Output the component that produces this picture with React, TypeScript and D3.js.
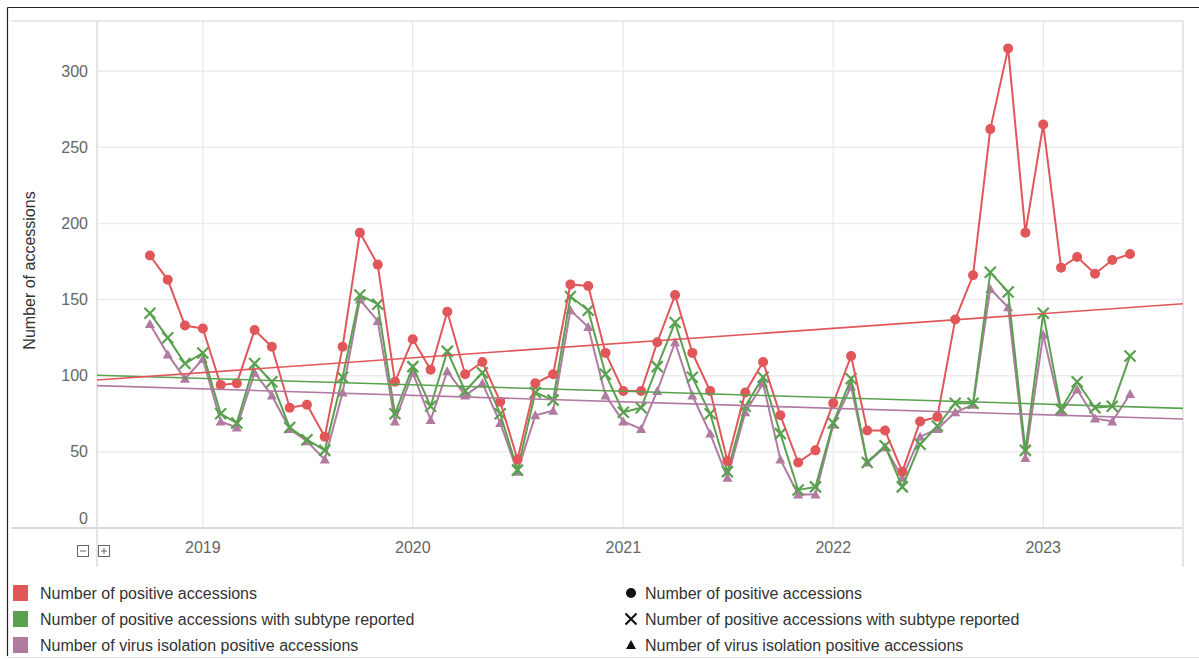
import React from 'react';
import * as d3 from 'd3';

// monthly values, Oct 2018 .. Jun 2023
const startMonth = new Date(2018, 9, 1);

const positive = [
  179, 163, 133,
  131, 94, 95, 130, 119, 79, 81, 60, 119, 194, 173, 96,
  124, 104, 142, 101, 109, 83, 45, 95, 101, 160, 159, 115,
  90, 90, 122, 153, 115, 90, 44, 89, 109, 74, 43, 51,
  82, 113, 64, 64, 37, 70, 73, 137, 166, 262, 315, 194,
  265, 171, 178, 167, 176, 180,
];

const subtyped = [
  141, 125, 108,
  115, 75, 69, 108, 96, 66, 58, 51, 99, 153, 147, 75,
  106, 80, 116, 90, 102, 75, 38, 89, 84, 152, 143, 101,
  76, 79, 106, 135, 99, 75, 37, 80, 99, 62, 25, 27,
  69, 98, 43, 54, 27, 55, 67, 82, 82, 168, 155, 51,
  141, 78, 96, 79, 80, 113,
];

const isolated = [
  134, 114, 98,
  111, 70, 66, 102, 87, 65, 57, 45, 89, 150, 136, 70,
  102, 71, 103, 87, 95, 69, 37, 74, 77, 143, 132, 87,
  70, 65, 90, 122, 87, 62, 33, 76, 95, 45, 22, 22,
  68, 93, 43, 53, 33, 60, 65, 76, 81, 157, 145, 46,
  127, 76, 91, 72, 70, 88,
];

const yTicks = [0, 50, 100, 150, 200, 250, 300];
const xYears = [2019, 2020, 2021, 2022, 2023];

const seriesNames = [
  'Number of positive accessions',
  'Number of positive accessions with subtype reported',
  'Number of virus isolation positive accessions',
];
const colors = ['#e15759', '#59a14f', '#b07aa1'];

const W = 1199;
const H = 659;
const plot = { left: 97, right: 1183, top: 21, bottom: 528 };

const x = d3
  .scaleTime()
  .domain([new Date(2018, 6, 1), new Date(2023, 8, 1)])
  .range([plot.left, plot.right]);

const y = d3.scaleLinear().domain([0, 333]).range([plot.bottom, plot.top]);

type Pt = { date: Date; value: number };

const toPoints = (vals: number[]): Pt[] =>
  vals.map((v, i) => ({
    date: new Date(startMonth.getFullYear(), startMonth.getMonth() + i, 1),
    value: v,
  }));

const allSeries = [positive, subtyped, isolated].map(toPoints);

// least squares trend, drawn across the whole axis
function trend(pts: Pt[]): Pt[] {
  const xs = pts.map((p) => +p.date);
  const ys = pts.map((p) => p.value);
  const mx = d3.mean(xs) as number;
  const my = d3.mean(ys) as number;
  let num = 0;
  let den = 0;
  xs.forEach((xv, i) => {
    num += (xv - mx) * (ys[i] - my);
    den += (xv - mx) * (xv - mx);
  });
  const b = num / den;
  const a = my - b * mx;
  return x.domain().map((d) => ({ date: d, value: a + b * +d }));
}

const line = d3
  .line<Pt>()
  .x((d) => x(d.date))
  .y((d) => y(d.value));

const font = '"Liberation Sans", Arial, sans-serif';

function Marker({ kind, cx, cy, color }: { kind: number; cx: number; cy: number; color: string }) {
  if (kind === 0) return <circle cx={cx} cy={cy} r={5} fill={color} />;
  if (kind === 1) {
    const s = 5.5;
    return (
      <path
        d={`M${cx - s},${cy - s}L${cx + s},${cy + s}M${cx - s},${cy + s}L${cx + s},${cy - s}`}
        stroke={color}
        strokeWidth={2.2}
        fill="none"
      />
    );
  }
  return (
    <path
      d={`M${cx},${cy - 5}L${cx + 5},${cy + 4}L${cx - 5},${cy + 4}Z`}
      fill={color}
    />
  );
}

const App: React.FC = () => {
  const order = [2, 1, 0];
  return (
    <svg
      width={W}
      height={H}
      style={{ position: 'absolute', left: 0, top: 0, background: '#fff' }}
      fontFamily={font}
    >
      {/* outer frame */}
      <line x1={7.5} y1={7.5} x2={W} y2={7.5} stroke="#222" strokeWidth={1.2} />
      <line x1={7.5} y1={7.5} x2={7.5} y2={656} stroke="#222" strokeWidth={1.2} />
      <line x1={7.5} y1={657.5} x2={W} y2={657.5} stroke="#e4e4e4" />

      {/* grid */}
      {yTicks.slice(1).map((t) => (
        <line key={t} x1={plot.left} x2={plot.right} y1={y(t)} y2={y(t)} stroke="#ececec" strokeWidth={1.5} />
      ))}
      {xYears.map((yr) => {
        const px = x(new Date(yr, 0, 1));
        return <line key={yr} x1={px} x2={px} y1={plot.top} y2={plot.bottom} stroke="#ececec" strokeWidth={1.5} />;
      })}
      <line x1={11} x2={plot.right} y1={plot.top} y2={plot.top} stroke="#e2e2e2" strokeWidth={1.5} />
      <line x1={11} x2={plot.right} y1={plot.bottom} y2={plot.bottom} stroke="#cfcfcf" strokeWidth={1.5} />
      <line x1={plot.left} x2={plot.left} y1={plot.top} y2={567} stroke="#dcdcdc" strokeWidth={1.5} />
      <line x1={plot.right} x2={plot.right} y1={plot.top} y2={567} stroke="#dcdcdc" strokeWidth={1.5} />

      {/* y axis */}
      {yTicks.map((t) => (
        <text key={t} x={88} y={y(t) + (t === 0 ? -4.5 : 5.5)} textAnchor="end" fontSize={16} fill="#666">
          {t}
        </text>
      ))}
      <text
        transform={`translate(35,${(plot.top + plot.bottom) / 2 - 4}) rotate(-90)`}
        textAnchor="middle"
        fontSize={16}
        fill="#333"
      >
        Number of accessions
      </text>

      {/* x axis */}
      {xYears.map((yr) => (
        <text key={yr} x={x(new Date(yr, 0, 1))} y={553} textAnchor="middle" fontSize={16} fill="#666">
          {yr}
        </text>
      ))}

      {/* zoom buttons */}
      <g stroke="#666" strokeWidth={1} fill="#fff">
        <rect x={77.5} y={545.5} width={11} height={11} />
        <line x1={80} x2={86} y1={551} y2={551} />
        <rect x={98.5} y={545.5} width={11} height={11} />
        <line x1={101} x2={107} y1={551} y2={551} />
        <line x1={104} x2={104} y1={548} y2={554} />
      </g>

      {/* series */}
      {order.map((si) => (
        <g key={si}>
          <path d={line(allSeries[si]) || ''} fill="none" stroke={colors[si]} strokeWidth={2} />
          {allSeries[si].map((p, i) => (
            <Marker key={i} kind={si} cx={x(p.date)} cy={y(p.value)} color={colors[si]} />
          ))}
        </g>
      ))}

      {/* trend lines */}
      {order.map((si) => (
        <path key={'t' + si} d={line(trend(allSeries[si])) || ''} fill="none" stroke={colors[si]} strokeWidth={1.6} />
      ))}

      {/* legend */}
      {seriesNames.map((name, i) => {
        const cy = 593 + i * 26;
        return (
          <g key={name}>
            <rect x={13} y={cy - 8} width={15} height={16} fill={colors[i]} />
            <text x={40} y={cy + 5.5} fontSize={16} fill="#333">
              {name}
            </text>
            <Marker kind={i} cx={631} cy={cy} color="#111" />
            <text x={645} y={cy + 5.5} fontSize={16} fill="#333">
              {name}
            </text>
          </g>
        );
      })}
    </svg>
  );
};

export default App;
